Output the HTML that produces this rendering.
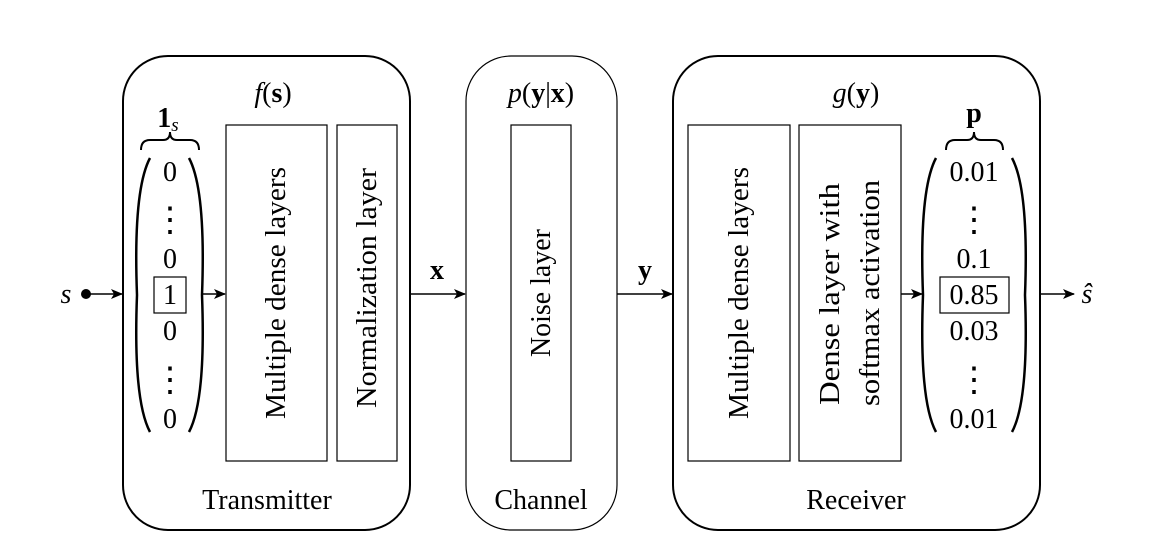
<!DOCTYPE html>
<html><head><style>body{margin:0;background:#fff}svg{display:block}text{font-family:"Liberation Serif","Times New Roman","DejaVu Serif",serif;fill:#000}</style></head>
<body>
<svg width="1154" height="550" viewBox="0 0 1154 550" xmlns="http://www.w3.org/2000/svg" font-family="Liberation Serif, Times New Roman, DejaVu Serif, serif">
<defs><marker id="a" markerWidth="12" markerHeight="10" refX="11" refY="5" orient="auto" markerUnits="userSpaceOnUse"><path d="M0,0 L12,5 L0,10 L3,5z" fill="#000"/></marker></defs>
<g fill="none" stroke="#000">
<rect x="123" y="56" width="287" height="474" rx="45" stroke-width="2"/>
<rect x="466" y="56" width="151" height="474" rx="45" stroke-width="1.2"/>
<rect x="673" y="56" width="367" height="474" rx="45" stroke-width="2"/>
<rect x="226" y="125" width="101" height="336" stroke-width="1.2"/>
<rect x="337" y="125" width="60" height="336" stroke-width="1.2"/>
<rect x="511" y="125" width="60" height="336" stroke-width="1.2"/>
<rect x="688" y="125" width="102" height="336" stroke-width="1.2"/>
<rect x="799" y="125" width="102" height="336" stroke-width="1.2"/>
<rect x="154" y="277" width="32" height="36" stroke-width="1.2"/>
<rect x="940" y="277" width="69" height="36" stroke-width="1.2"/>
<path d="M150,158 Q133,190 137,295 Q133,400 150,432" stroke-width="2.5"/>
<path d="M189,158 Q206,190 202,295 Q206,400 189,432" stroke-width="2.5"/>
<path d="M936,158 Q919,190 923,295 Q919,400 936,432" stroke-width="2.5"/>
<path d="M1012,158 Q1029,190 1025,295 Q1029,400 1012,432" stroke-width="2.5"/>
<path d="M141,150 Q141,140 150,140 L163,140 Q170,140 170,132 Q170,140 177,140 L190,140 Q199,140 199,150" stroke-width="2"/>
<path d="M946,150 Q946,140 955,140 L967,140 Q974,140 974,132 Q974,140 981,140 L994,140 Q1003,140 1003,150" stroke-width="2"/>
<g stroke-width="1.5">
<line x1="88" y1="294" x2="122" y2="294" marker-end="url(#a)"/>
<line x1="203" y1="294" x2="225" y2="294" marker-end="url(#a)"/>
<line x1="410" y1="294" x2="465" y2="294" marker-end="url(#a)"/>
<line x1="617" y1="294" x2="672" y2="294" marker-end="url(#a)"/>
<line x1="901" y1="294" x2="922" y2="294" marker-end="url(#a)"/>
<line x1="1040" y1="294" x2="1074" y2="294" marker-end="url(#a)"/>
</g>
</g>
<circle cx="86" cy="294" r="5" fill="#000"/>
<g font-size="28" text-anchor="middle">
<text x="66" y="303" font-style="italic">s</text>
<text x="1087" y="303" font-style="italic">ŝ</text>
<text x="273" y="102"><tspan font-style="italic">f</tspan>(<tspan font-weight="bold">s</tspan>)</text>
<text x="541" y="102"><tspan font-style="italic">p</tspan>(<tspan font-weight="bold">y</tspan>|<tspan font-weight="bold">x</tspan>)</text>
<text x="856" y="102"><tspan font-style="italic">g</tspan>(<tspan font-weight="bold">y</tspan>)</text>
<text x="168" y="127" font-weight="bold">1<tspan font-size="19" font-style="italic" font-weight="normal" dy="4">s</tspan></text>
<text x="974" y="122" font-weight="bold">p</text>
<text x="437" y="279" font-weight="bold">x</text>
<text x="645" y="279" font-weight="bold">y</text>
<text x="170" y="181">0</text><text x="170" y="231" font-size="34">⋮</text><text x="170" y="268">0</text>
<text x="170" y="304">1</text><text x="170" y="340">0</text><text x="170" y="391" font-size="34">⋮</text><text x="170" y="428">0</text>
<text x="974" y="181">0.01</text><text x="974" y="231" font-size="34">⋮</text><text x="974" y="268">0.1</text>
<text x="974" y="304">0.85</text><text x="974" y="340">0.03</text><text x="974" y="391" font-size="34">⋮</text><text x="974" y="428">0.01</text>
<text x="267" y="509">Transmitter</text>
<text x="541" y="509">Channel</text>
<text x="856" y="509">Receiver</text>
<text transform="translate(285,293) rotate(-90)" textLength="252" lengthAdjust="spacingAndGlyphs">Multiple dense layers</text>
<text transform="translate(376,288) rotate(-90)" textLength="240" lengthAdjust="spacingAndGlyphs">Normalization layer</text>
<text transform="translate(550,293) rotate(-90)" textLength="128" lengthAdjust="spacingAndGlyphs">Noise layer</text>
<text transform="translate(748,293) rotate(-90)" textLength="252" lengthAdjust="spacingAndGlyphs">Multiple dense layers</text>
<text transform="translate(839,294) rotate(-90)" textLength="222" lengthAdjust="spacingAndGlyphs">Dense layer with</text>
<text transform="translate(879,293) rotate(-90)" textLength="226" lengthAdjust="spacingAndGlyphs">softmax activation</text>
</g>
</svg>
</body></html>
